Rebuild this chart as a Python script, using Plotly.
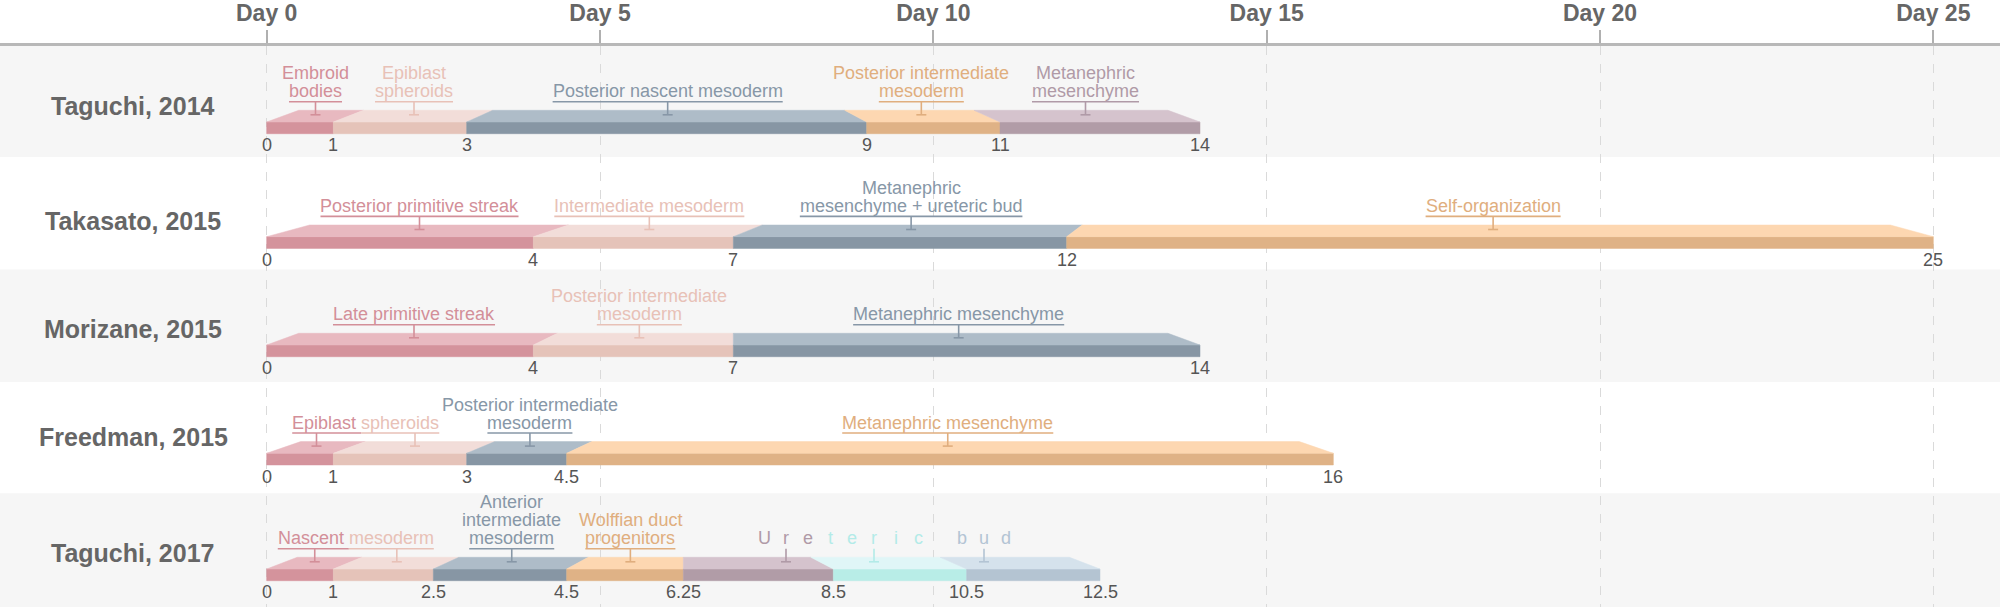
import numpy as np
import plotly.graph_objects as go

# canvas / axis
W, H = 2000, 607
X_RANGE = [-4, 26]
PX_PER_DAY = W / (X_RANGE[1] - X_RANGE[0])

day_ticks = [0, 5, 10, 15, 20, 25]
day_labels = ["Day %d" % d for d in day_ticks]

study_names = ["Taguchi, 2014", "Takasato, 2015", "Morizane, 2015",
               "Freedman, 2015", "Taguchi, 2017"]

# stage boundaries (days), stage names, colour keys, label groups
taguchi14_days = [0, 1, 3, 9, 11, 14]
taguchi14_stages = ["Embroid<br>bodies", "Epiblast<br>spheroids", "Posterior nascent mesoderm",
                    "Posterior intermediate<br>mesoderm", "Metanephric<br>mesenchyme"]
taguchi14_colors = ["pink", "salmon", "slate", "peach", "mauve"]
taguchi14_groups = [0, 1, 2, 3, 4]

takasato_days = [0, 4, 7, 12, 25]
takasato_stages = ["Posterior primitive streak", "Intermediate mesoderm",
                   "Metanephric<br>mesenchyme + ureteric bud", "Self-organization"]
takasato_colors = ["pink", "salmon", "slate", "peach"]
takasato_groups = [0, 1, 2, 3]

morizane_days = [0, 4, 7, 14]
morizane_stages = ["Late primitive streak", "Posterior intermediate<br>mesoderm",
                   "Metanephric mesenchyme"]
morizane_colors = ["pink", "salmon", "slate"]
morizane_groups = [0, 1, 2]

freedman_days = [0, 1, 3, 4.5, 16]
freedman_stages = ["Epiblast ", "spheroids", "Posterior intermediate<br>mesoderm",
                   "Metanephric mesenchyme"]
freedman_colors = ["pink", "salmon", "slate", "peach"]
freedman_groups = [0, 0, 1, 2]

taguchi17_days = [0, 1, 2.5, 4.5, 6.25, 8.5, 10.5, 12.5]
taguchi17_stages = ["Nascent ", "mesoderm", "Anterior<br>intermediate<br>mesoderm",
                    "Wolffian duct<br>progenitors", "Ure", "teric ", "bud"]
taguchi17_colors = ["pink", "salmon", "slate", "peach", "mauve", "aqua", "sky"]
taguchi17_groups = [0, 0, 1, 2, 3, 3, 3]

rows = [
    (study_names[0], taguchi14_days, taguchi14_stages, taguchi14_colors, taguchi14_groups),
    (study_names[1], takasato_days, takasato_stages, takasato_colors, takasato_groups),
    (study_names[2], morizane_days, morizane_stages, morizane_colors, morizane_groups),
    (study_names[3], freedman_days, freedman_stages, freedman_colors, freedman_groups),
    (study_names[4], taguchi17_days, taguchi17_stages, taguchi17_colors, taguchi17_groups),
]

# styles
FRONT = {"pink": "#d4939c", "salmon": "#e5c3b9", "slate": "#8796a4", "peach": "#dfb286",
         "mauve": "#b19ca7", "aqua": "#b8ede7", "sky": "#b4c4d2"}
TOP = {"pink": "#e8b9c0", "salmon": "#f2ddd9", "slate": "#aebcc8", "peach": "#fdd7b1",
       "mauve": "#d5c3cd", "aqua": "#e0f6f7", "sky": "#d5e2ec"}
INK = {"pink": "#d38f99", "salmon": "#e8c1b7", "slate": "#8797a7", "peach": "#e0ae7e",
       "mauve": "#b09aa7", "aqua": "#b3ebe8", "sky": "#b3c4d4"}

FONT = "Liberation Sans, Arial, sans-serif"
ROW_FRONT_TOP = [122, 236.7, 345, 453.3, 569]
BAND_EDGES = [46, 157, 269.5, 382.3, 493.3, 607]
BAND_FILL = ["#f6f6f6", "#ffffff", "#f6f6f6", "#ffffff", "#f6f6f6"]
FACE = 11.7
LINE_GAP = 18
SPACED = {(4, 3)}
LETTER_ADV = 22

ARIAL = {" ": 278, "+": 584, "-": 333, ",": 278, ".": 278,
         "A": 667, "E": 667, "I": 278, "L": 611, "M": 833, "N": 722, "P": 667, "S": 667,
         "U": 722, "W": 944,
         "a": 556, "b": 556, "c": 500, "d": 556, "e": 556, "f": 278, "g": 556, "h": 556,
         "i": 222, "j": 222, "k": 500, "l": 222, "m": 833, "n": 556, "o": 556, "p": 556,
         "q": 556, "r": 333, "s": 500, "t": 278, "u": 556, "v": 500, "w": 722, "x": 500,
         "y": 500, "z": 500}


def text_days(s, size=18):
    return sum(ARIAL.get(ch, 556) for ch in s) * size / 1000 / PX_PER_DAY


def top_shift(x, c):
    d = x - c
    return -(0.03 * d + 0.27 * np.tanh(d / 0.45))


fig = go.Figure()
annotations = []
shapes = []

for r, fill in enumerate(BAND_FILL):
    shapes.append(dict(type="rect", xref="paper", x0=0, x1=1, yref="y",
                       y0=BAND_EDGES[r], y1=BAND_EDGES[r + 1], fillcolor=fill,
                       line=dict(width=0), layer="below"))


def stroke(x0, y0, x1, y1, color):
    shapes.append(dict(type="line", xref="x", yref="y", x0=x0, y0=y0, x1=x1, y1=y1,
                       line=dict(color=color, width=1.6), layer="above"))


def label(x, y, text, color, size=18):
    annotations.append(dict(x=x, y=y, xref="x", yref="y", text=text, showarrow=False,
                            xanchor="center", yanchor="middle",
                            font=dict(family=FONT, size=size, color=color)))


cap = 5 / PX_PER_DAY

for r, (name, days, stages, colors, groups) in enumerate(rows):
    ft = ROW_FRONT_TOP[r]
    fb = ft + FACE
    tt = ft - FACE
    ul = tt - 8.6
    cap_y = tt + 4.5
    c = (days[0] + days[-1]) / 2
    shifts = [top_shift(d, c) for d in days]

    ticks = []
    for i in range(len(stages)):
        x0, x1 = days[i], days[i + 1]
        s0, s1 = shifts[i], shifts[i + 1]
        col = colors[i]
        fig.add_trace(go.Scatter(x=[x0, x1, x1, x0, x0], y=[ft, ft, fb, fb, ft],
                                 mode="lines", fill="toself", fillcolor=FRONT[col],
                                 line=dict(color=FRONT[col], width=0.5),
                                 hoverinfo="skip", showlegend=False))
        fig.add_trace(go.Scatter(x=[x0, x1, x1 + s1, x0 + s0, x0], y=[ft, ft, tt, tt, ft],
                                 mode="lines", fill="toself", fillcolor=TOP[col],
                                 line=dict(color=TOP[col], width=0.5),
                                 hoverinfo="skip", showlegend=False))
        ticks.append((x0 + x1) / 2 + 0.25 * (s0 + s1))

    # boundary numbers
    for d in days:
        label(d, fb + 11.5, "%g" % d, "#555555")

    # study name
    annotations.append(dict(x=-2, y=ft - 16, xref="x", yref="y", text=name,
                            showarrow=False, xanchor="center", yanchor="middle",
                            font=dict(family=FONT, size=25, color="#666666", weight="bold")))

    # stage labels
    for g in sorted(set(groups)):
        idx = [i for i, gg in enumerate(groups) if gg == g]
        if (r, g) in SPACED:
            full = "".join(stages[j] for j in idx)
            n = len(full)
            cx = (days[idx[0]] + days[idx[-1] + 1]) / 2 - 0.1
            adv = LETTER_ADV / PX_PER_DAY
            pos = 0
            for j in idx:
                xs = []
                for ch in stages[j]:
                    xc = cx + (pos - (n - 1) / 2) * adv
                    if ch != " ":
                        label(xc, ul - 10.5, ch, INK[colors[j]])
                        xs.append(xc)
                    pos += 1
                tx = np.mean(xs)
                stroke(tx, ul, tx, cap_y, INK[colors[j]])
                stroke(tx - cap, cap_y, tx + cap, cap_y, INK[colors[j]])
        elif len(idx) == 1:
            i = idx[0]
            lines = stages[i].split("<br>")
            cx = ticks[i]
            for k, ln in enumerate(reversed(lines)):
                label(cx, ul - 10.5 - LINE_GAP * k, ln, INK[colors[i]])
            w = text_days(lines[-1])
            stroke(cx - w / 2, ul, cx + w / 2, ul, INK[colors[i]])
            stroke(cx, ul, cx, cap_y, INK[colors[i]])
            stroke(cx - cap, cap_y, cx + cap, cap_y, INK[colors[i]])
        else:
            full = "".join(stages[j] for j in idx)
            cx = np.mean([ticks[j] for j in idx])
            html = "".join('<span style="color:%s">%s</span>' % (INK[colors[j]], stages[j])
                           for j in idx)
            label(cx, ul - 10.5, html, INK[colors[idx[0]]])
            left = cx - text_days(full) / 2
            for j in idx:
                w = text_days(stages[j])
                stroke(left, ul, left + w, ul, INK[colors[j]])
                left += w
                stroke(ticks[j], ul, ticks[j], cap_y, INK[colors[j]])
                stroke(ticks[j] - cap, cap_y, ticks[j] + cap, cap_y, INK[colors[j]])

fig.update_layout(
    width=W, height=H,
    margin=dict(l=0, r=0, t=46, b=0),
    paper_bgcolor="white", plot_bgcolor="white",
    showlegend=False,
    annotations=annotations, shapes=shapes,
    xaxis=dict(range=X_RANGE, side="top", tickvals=day_ticks, ticktext=day_labels,
               ticks="outside", ticklen=13, tickwidth=1.5, tickcolor="#b0b0b0",
               showline=True, linewidth=2.5, linecolor="#b8b8b8",
               showgrid=True, griddash="dash", gridcolor="#dadada", gridwidth=1,
               zeroline=False, fixedrange=True,
               tickfont=dict(family=FONT, size=23, color="#666666", weight="bold")),
    yaxis=dict(range=[H, 46], visible=False, fixedrange=True),
)

# drop the browser's default body margin so the figure fills the window exactly
fig.write_html("out.html", config={"displayModeBar": False},
               post_script="document.body.style.margin='0';")
